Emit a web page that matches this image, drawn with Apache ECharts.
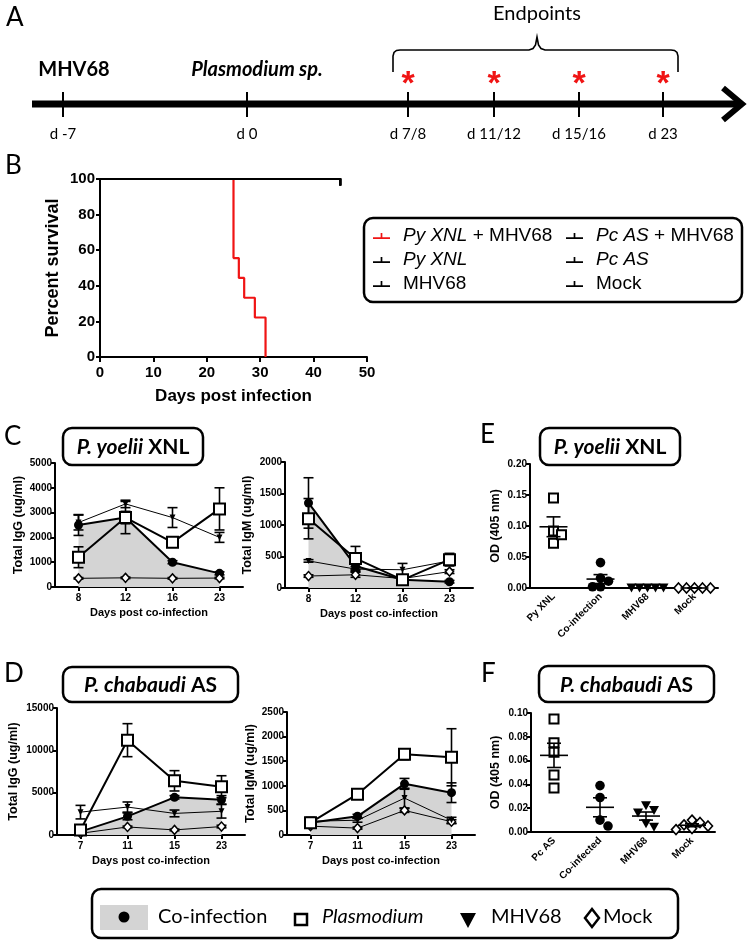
<!DOCTYPE html>
<html><head><meta charset="utf-8">
<script src="https://cdn.jsdelivr.net/npm/echarts@6/dist/echarts.min.js"></script>
<style>html,body{margin:0;padding:0;background:#fff}#c{width:750px;height:942px}</style>
</head><body><div id="c"></div>
<script>
// ================= DATA =================
// Panel A (schematic timeline)
const timelineLabels = ['d -7', 'd 0', 'd 7/8', 'd 11/12', 'd 15/16', 'd 23'];
const timelineEvents = ['MHV68', 'Plasmodium sp.'];
const endpointTitle = 'Endpoints';
// Panel B (survival)
const survivalNames = ['Py XNL + MHV68', 'Pc AS + MHV68', 'Py XNL', 'Pc AS', 'MHV68', 'Mock'];
const survDaysPyMHV = [0, 25, 26, 27, 29, 31];
const survPctPyMHV = [100, 55.6, 44.4, 33.3, 22.2, 0];
const survDaysOther = [0, 45];
const survPctOther = [100, 100];
// Panels C / D (line charts)
const groupNames = ['Co-infection', 'Plasmodium', 'MHV68', 'Mock'];
const daysPy = ['8', '12', '16', '23'];
const daysPc = ['7', '11', '15', '23'];
const cIgG_coinf = [2500, 2800, 1000, 550],  cIgG_coinfSem = [420, 250, 60, 60];
const cIgG_plas  = [1200, 2800, 1800, 3150], cIgG_plasSem  = [420, 650, 100, 850];
const cIgG_mhv   = [2600, 3350, 2800, 2000], cIgG_mhvSem   = [300, 150, 400, 200];
const cIgG_mock  = [350, 370, 350, 360],     cIgG_mockSem  = [30, 30, 30, 30];
const cIgM_coinf = [1350, 350, 130, 100],    cIgM_coinfSem = [400, 50, 30, 20];
const cIgM_plas  = [1100, 470, 130, 450],    cIgM_plasSem  = [320, 190, 40, 100];
const cIgM_mhv   = [430, 300, 290, 430],     cIgM_mhvSem   = [20, 40, 100, 60];
const cIgM_mock  = [190, 210, 150, 260],     cIgM_mockSem  = [20, 40, 30, 30];
const dIgG_coinf = [400, 2200, 4450, 4150],  dIgG_coinfSem = [150, 400, 200, 500];
const dIgG_plas  = [600, 11200, 6400, 5700], dIgG_plasSem  = [200, 1950, 1200, 1300];
const dIgG_mhv   = [2700, 3300, 2550, 2800], dIgG_mhvSem   = [800, 600, 400, 800];
const dIgG_mock  = [200, 950, 600, 1000],    dIgG_mockSem  = [50, 100, 100, 150];
const dIgM_coinf = [250, 380, 1040, 860],    dIgM_coinfSem = [50, 40, 110, 200];
const dIgM_plas  = [250, 830, 1640, 1580],   dIgM_plasSem  = [60, 40, 110, 580];
const dIgM_mhv   = [280, 300, 750, 300],     dIgM_mhvSem   = [80, 40, 200, 60];
const dIgM_mock  = [180, 140, 500, 270],     dIgM_mockSem  = [30, 20, 40, 40];
// Panels E / F (dot plots, OD 405 nm)
const eCats = ['Py XNL', 'Co-infection', 'MHV68', 'Mock'];
const ePy    = [0.145, 0.072, 0.092, 0.086];
const eCoinf = [0.041, 0.016, 0.011, 0.002, 0.002];
const eMhv   = [0, 0, 0, 0, 0];
const eMock  = [0, 0, 0, 0, 0];
const fCats = ['Pc AS', 'Co-infected', 'MHV68', 'Mock'];
const fPc    = [0.095, 0.075, 0.067, 0.048, 0.037];
const fCoinf = [0.039, 0.029, 0.010, 0.005];
const fMhv   = [0.022, 0.018, 0.016, 0.007, 0.004];
const fMock  = [0.010, 0.008, 0.006, 0.005, 0.003, 0.002];

// ================= STYLE / LAYOUT =================
const F = 'Liberation Sans';
const CAL = 'Lato';
const GRAY = '#d4d4d4';
const RED = '#f01414';

function mean(a) { return a.reduce((s, v) => s + v, 0) / a.length; }
function sem(a) {
  const m = mean(a);
  const sd = Math.sqrt(a.reduce((s, v) => s + (v - m) * (v - m), 0) / (a.length - 1));
  return sd / Math.sqrt(a.length);
}

const axLine = { show: true, onZero: false, lineStyle: { color: '#000', width: 2 } };
const axTick = { show: true, inside: false, length: 4, lineStyle: { color: '#000', width: 2 } };
const plain = v => String(v);

function yAx(gi, min, max, interval, name, gap, fmt, fs) {
  return {
    type: 'value', gridIndex: gi, min, max, interval,
    name, nameLocation: 'middle', nameRotate: 90, nameGap: gap,
    nameTextStyle: { color: '#000', fontFamily: F, fontWeight: 'bold', fontSize: fs || 12.5 },
    axisLine: axLine, axisTick: axTick, splitLine: { show: false },
    axisLabel: { color: '#000', fontFamily: F, fontWeight: 'bold', fontSize: fs ? 15 : 10, margin: fs ? 5 : 3, formatter: fmt || plain }
  };
}
function xCat(gi, cats, name) {
  return {
    type: 'category', gridIndex: gi, data: cats, boundaryGap: true,
    name, nameLocation: 'middle', nameGap: 20,
    nameTextStyle: { color: '#000', fontFamily: F, fontWeight: 'bold', fontSize: 11 },
    axisLine: axLine, axisTick: Object.assign({ alignWithLabel: true }, axTick),
    axisLabel: { color: '#000', fontFamily: F, fontWeight: 'bold', fontSize: 10, margin: 6 },
    splitLine: { show: false }
  };
}
function xDot(gi, cats) {
  return {
    type: 'category', gridIndex: gi, data: cats, boundaryGap: true,
    axisLine: axLine, axisTick: { show: false },
    axisLabel: { color: '#000', fontFamily: F, fontWeight: 'bold', fontSize: 10, rotate: 45, margin: 7, interval: 0 },
    splitLine: { show: false }
  };
}

// ---- line panels ----
function errSeries(gi, means, sems, z) {
  return {
    type: 'custom', xAxisIndex: gi, yAxisIndex: gi, z, silent: true,
    data: means.map((m, i) => [i, m, sems[i]]),
    encode: { x: 0, y: 1 },
    renderItem: (p, api) => {
      const x = api.value(0), m = api.value(1), e = api.value(2);
      const t = api.coord([x, m + e]), b = api.coord([x, m - e]);
      const hw = 5, st = { stroke: '#000', lineWidth: 1.6 };
      return { type: 'group', children: [
        { type: 'line', shape: { x1: t[0], y1: t[1], x2: b[0], y2: b[1] }, style: st },
        { type: 'line', shape: { x1: t[0] - hw, y1: t[1], x2: t[0] + hw, y2: t[1] }, style: st },
        { type: 'line', shape: { x1: b[0] - hw, y1: b[1], x2: b[0] + hw, y2: b[1] }, style: st }
      ]};
    }
  };
}
function linePanel(gi, coinf, cS, plas, pS, mhv, mS, mock, kS) {
  return [
    { type: 'line', name: groupNames[0], xAxisIndex: gi, yAxisIndex: gi, data: coinf, z: 2,
      symbol: 'circle', symbolSize: 9, itemStyle: { color: '#000' },
      lineStyle: { color: '#000', width: 2 }, areaStyle: { color: GRAY, opacity: 1 } },
    errSeries(gi, coinf, cS, 3), errSeries(gi, plas, pS, 3), errSeries(gi, mhv, mS, 3), errSeries(gi, mock, kS, 3),
    { type: 'line', name: groupNames[3], xAxisIndex: gi, yAxisIndex: gi, data: mock, z: 4,
      symbol: 'diamond', symbolSize: [8, 9], itemStyle: { color: '#fff', borderColor: '#000', borderWidth: 1.5 },
      lineStyle: { color: '#000', width: 1 } },
    { type: 'line', name: groupNames[2], xAxisIndex: gi, yAxisIndex: gi, data: mhv, z: 5,
      symbol: 'triangle', symbolRotate: 180, symbolSize: 6, itemStyle: { color: '#000' },
      lineStyle: { color: '#000', width: 1 } },
    { type: 'line', name: groupNames[1], xAxisIndex: gi, yAxisIndex: gi, data: plas, z: 6,
      symbol: 'rect', symbolSize: 11, itemStyle: { color: '#fff', borderColor: '#000', borderWidth: 2 },
      lineStyle: { color: '#000', width: 2 } }
  ];
}

// ---- dot panels ----
function swarm(ys, s) {
  const placed = [], offs = [];
  const cand = [0, s, -s, 2 * s, -2 * s, 3 * s, -3 * s, 4 * s, -4 * s];
  ys.forEach(y => {
    let dx = 0;
    for (const c of cand) {
      if (placed.every(p => Math.hypot(p.dx - c, p.y - y) >= s * 0.95)) { dx = c; break; }
    }
    placed.push({ dx, y }); offs.push(dx);
  });
  return offs;
}
function shapeFor(kind, cx, cy) {
  if (kind === 'square') return { type: 'rect', shape: { x: cx - 4.5, y: cy - 4.5, width: 9, height: 9 }, style: { fill: '#fff', stroke: '#000', lineWidth: 2 } };
  if (kind === 'circle') return { type: 'circle', shape: { cx, cy, r: 4.8 }, style: { fill: '#000' } };
  if (kind === 'tri') return { type: 'polygon', shape: { points: [[cx - 5, cy - 4.5], [cx + 5, cy - 4.5], [cx, cy + 4.5]] }, style: { fill: '#000' } };
  return { type: 'polygon', shape: { points: [[cx, cy - 5], [cx + 4.5, cy], [cx, cy + 5], [cx - 4.5, cy]] }, style: { fill: '#fff', stroke: '#000', lineWidth: 1.6 } };
}
function dotSeries(gi, catIdx, vals, kind) {
  return {
    type: 'custom', xAxisIndex: gi, yAxisIndex: gi, z: 5, silent: true,
    data: vals.map((v, j) => [catIdx, v, j]),
    encode: { x: 0, y: 1 },
    renderItem: (p, api) => {
      const j = api.value(2);
      const ys = vals.map(v => api.coord([catIdx, v])[1]);
      const offs = swarm(ys, 8);
      const c = api.coord([catIdx, api.value(1)]);
      return shapeFor(kind, c[0] + offs[j], c[1]);
    }
  };
}
function meanSeries(gi, groups) {
  return {
    type: 'custom', xAxisIndex: gi, yAxisIndex: gi, z: 6, silent: true,
    data: groups.map((g, i) => [i, mean(g), sem(g)]),
    encode: { x: 0, y: 1 },
    renderItem: (p, api) => {
      const x = api.value(0), m = api.value(1), e = api.value(2);
      const c = api.coord([x, m]), t = api.coord([x, m + e]), b = api.coord([x, m - e]);
      const st = { stroke: '#000', lineWidth: 1.6 };
      return { type: 'group', children: [
        { type: 'line', shape: { x1: c[0] - 14, y1: c[1], x2: c[0] + 14, y2: c[1] }, style: st },
        { type: 'line', shape: { x1: t[0], y1: t[1], x2: b[0], y2: b[1] }, style: st },
        { type: 'line', shape: { x1: t[0] - 7, y1: t[1], x2: t[0] + 7, y2: t[1] }, style: st },
        { type: 'line', shape: { x1: b[0] - 7, y1: b[1], x2: b[0] + 7, y2: b[1] }, style: st }
      ]};
    }
  };
}

// ---- survival ----
const survivalSeries = [
  { type: 'line', name: survivalNames[0], xAxisIndex: 0, yAxisIndex: 0, step: 'end', z: 2,
    data: survDaysPyMHV.map((d, i) => [d, survPctPyMHV[i]]), symbol: 'none',
    itemStyle: { color: RED }, lineStyle: { color: RED, width: 2.2 } }
].concat(survivalNames.slice(1).map(n => ({
  type: 'line', name: n, xAxisIndex: 0, yAxisIndex: 0, step: 'end', z: 3,
  data: survDaysOther.map((d, i) => i === survDaysOther.length - 1
    ? { value: [d, survPctOther[i]], symbol: 'rect', symbolSize: [2, 7], symbolOffset: [0, 3] }
    : [d, survPctOther[i]]),
  symbol: 'none', showSymbol: true,
  itemStyle: { color: '#000' }, lineStyle: { color: '#000', width: 2 }
})));
const legendRich = { 'Py XNL + MHV68': '{i|Py XNL} + MHV68', 'Pc AS + MHV68': '{i|Pc AS} + MHV68', 'Py XNL': '{i|Py XNL}', 'Pc AS': '{i|Pc AS}', 'MHV68': 'MHV68', 'Mock': 'Mock' };

// ---- graphics (schematic / annotation) ----
const tlX = [63, 247, 408, 494, 579, 663];
const tlY = 104;
const G = [];
G.push({ type: 'text', style: { text: 'A', x: 6, y: 18, verticalAlign: 'middle', fontFamily: CAL, fontSize: 26, fill: '#000' } });
G.push({ type: 'rect', shape: { x: 32, y: tlY - 3.5, width: 706, height: 7 }, style: { fill: '#000' } });
G.push({ type: 'polyline', shape: { points: [[723, tlY - 16], [742, tlY], [723, tlY + 16]] }, style: { stroke: '#000', lineWidth: 6, fill: null, lineJoin: 'miter' } });
tlX.forEach((x, i) => {
  G.push({ type: 'line', shape: { x1: x, y1: tlY - 12, x2: x, y2: tlY + 13 }, style: { stroke: '#000', lineWidth: 2 } });
  G.push({ type: 'text', style: { text: timelineLabels[i], x, y: 134, align: 'center', verticalAlign: 'middle', fontFamily: CAL, fontSize: 15, fill: '#000' } });
  if (i >= 2) G.push({ type: 'text', style: { text: '*', x, y: 85, align: 'center', verticalAlign: 'middle', fontFamily: F, fontWeight: 'bold', fontSize: 34, fill: RED } });
});
G.push({ type: 'text', style: { text: timelineEvents[0], x: 74, y: 70, align: 'center', verticalAlign: 'middle', fontFamily: CAL, fontWeight: 'bold', fontSize: 20, fill: '#000' } });
G.push({ type: 'text', style: { text: timelineEvents[1], x: 257, y: 70, align: 'center', verticalAlign: 'middle', fontFamily: CAL, fontWeight: 'bold', fontStyle: 'italic', fontSize: 20, fill: '#000' } });
G.push({ type: 'text', style: { text: endpointTitle, x: 537, y: 14, align: 'center', verticalAlign: 'middle', fontFamily: CAL, fontSize: 20, fill: '#000' } });
G.push({ type: 'polyline', shape: { points: [[393, 72], [393, 56], [394, 52.5], [396.5, 50.5], [400, 50], [529, 50], [533, 48.5], [535.5, 45], [537, 37], [538.5, 45], [541, 48.5], [545, 50], [671, 50], [674.5, 50.5], [677, 52.5], [678, 56], [678, 72]] }, style: { stroke: '#000', lineWidth: 1.6, fill: null } });

// panel letters
[['B', 5, 166], ['C', 4, 437], ['D', 4, 674], ['E', 480, 435], ['F', 481, 674]].forEach(([t, x, y]) =>
  G.push({ type: 'text', style: { text: t, x, y, verticalAlign: 'middle', fontFamily: CAL, fontSize: 26, fill: '#000' } }));

// title boxes
function titleBox(x, y, w, h, it, rest) {
  G.push({ type: 'rect', shape: { x, y, width: w, height: h, r: 9 }, style: { fill: '#fff', stroke: '#000', lineWidth: 2.5 } });
  G.push({ type: 'text', style: { text: '{i|' + it + '} ' + rest, x: x + w / 2, y: y + h / 2 + 1, align: 'center', verticalAlign: 'middle',
    fontFamily: CAL, fontWeight: 'bold', fontSize: 21, fill: '#000',
    rich: { i: { fontFamily: CAL, fontWeight: 'bold', fontStyle: 'italic', fontSize: 21, fill: '#000' } } } });
}
titleBox(63, 428, 140, 37, 'P. yoelii', 'XNL');
titleBox(540, 428, 140, 37, 'P. yoelii', 'XNL');
titleBox(63, 667, 175, 35, 'P. chabaudi', 'AS');
titleBox(539, 666, 175, 36, 'P. chabaudi', 'AS');

// bottom legend
G.push({ type: 'rect', shape: { x: 92, y: 889, width: 586, height: 49, r: 9 }, style: { fill: '#fff', stroke: '#000', lineWidth: 2.5 } });
G.push({ type: 'rect', shape: { x: 100, y: 905, width: 48, height: 25 }, style: { fill: GRAY } });
G.push({ type: 'circle', shape: { cx: 124, cy: 917, r: 5.5 }, style: { fill: '#000' } });
G.push({ type: 'text', style: { text: groupNames[0], x: 158, y: 917, verticalAlign: 'middle', fontFamily: CAL, fontSize: 20, fill: '#000' } });
G.push({ type: 'rect', shape: { x: 295, y: 914, width: 12, height: 11 }, style: { fill: '#fff', stroke: '#000', lineWidth: 2.5 } });
G.push({ type: 'text', style: { text: groupNames[1], x: 322, y: 917, verticalAlign: 'middle', fontFamily: CAL, fontStyle: 'italic', fontSize: 20, fill: '#000' } });
G.push({ type: 'polygon', shape: { points: [[460, 913], [476, 913], [468, 928]] }, style: { fill: '#000' } });
G.push({ type: 'text', style: { text: groupNames[2], x: 491, y: 917, verticalAlign: 'middle', fontFamily: CAL, fontSize: 20, fill: '#000' } });
G.push({ type: 'polygon', shape: { points: [[592, 909], [599, 918], [592, 927], [585, 918]] }, style: { fill: '#fff', stroke: '#000', lineWidth: 2.5 } });
G.push({ type: 'text', style: { text: groupNames[3], x: 603, y: 917, verticalAlign: 'middle', fontFamily: CAL, fontSize: 20, fill: '#000' } });

// ================= OPTION =================
const option = {
  animation: false,
  backgroundColor: '#fff',
  textStyle: { fontFamily: F },
  grid: [
    { left: 100, top: 179, width: 267, height: 178 },
    { left: 55, top: 463, width: 188, height: 124 },
    { left: 285, top: 462, width: 188, height: 126 },
    { left: 530, top: 464, width: 188, height: 124 },
    { left: 57, top: 708, width: 188, height: 127 },
    { left: 287, top: 712, width: 188, height: 123 },
    { left: 531, top: 713, width: 184, height: 119 }
  ],
  xAxis: [
    { type: 'value', gridIndex: 0, min: 0, max: 50, interval: 10,
      name: 'Days post infection', nameLocation: 'middle', nameGap: 31,
      nameTextStyle: { color: '#000', fontFamily: F, fontWeight: 'bold', fontSize: 17 },
      axisLine: axLine, axisTick: { show: true, length: 5, lineStyle: { color: '#000', width: 2 } }, splitLine: { show: false },
      axisLabel: { color: '#000', fontFamily: F, fontWeight: 'bold', fontSize: 15, margin: 8 } },
    xCat(1, daysPy, 'Days post co-infection'),
    xCat(2, daysPy, 'Days post co-infection'),
    xDot(3, eCats),
    xCat(4, daysPc, 'Days post co-infection'),
    xCat(5, daysPc, 'Days post co-infection'),
    xDot(6, fCats)
  ],
  yAxis: [
    yAx(0, 0, 100, 20, 'Percent survival', 38, null, 18),
    yAx(1, 0, 5000, 1000, 'Total IgG (ug/ml)', 30),
    yAx(2, 0, 2000, 500, 'Total IgM (ug/ml)', 31),
    yAx(3, 0, 0.2, 0.05, 'OD (405 nm)', 28, v => v.toFixed(2)),
    yAx(4, 0, 15000, 5000, 'Total IgG (ug/ml)', 37),
    yAx(5, 0, 2500, 500, 'Total IgM (ug/ml)', 30),
    yAx(6, 0, 0.1, 0.02, 'OD (405 nm)', 29, v => v.toFixed(2))
  ],
  legend: {
    left: 364, top: 218, width: 368, orient: 'horizontal',
    itemWidth: 17, itemHeight: 8, itemGap: 4,
    padding: [8, 4, 8, 9],
    borderColor: '#000', borderWidth: 2.5, borderRadius: 9,
    selectedMode: false,
    icon: 'path://M0,7 L20,7 L20,9 L0,9 Z M9,2 L11,2 L11,7 L9,7 Z',
    data: survivalNames.map((n, i) => ({ name: n, textStyle: { width: i % 2 === 0 ? 159 : 142 } })),
    formatter: n => legendRich[n],
    textStyle: { color: '#000', fontFamily: F, fontSize: 19, lineHeight: 20, padding: [0, 0, 0, 8],
      rich: { i: { fontFamily: F, fontSize: 19, fontStyle: 'italic', color: '#000' } } }
  },
  series: [].concat(
    survivalSeries,
    linePanel(1, cIgG_coinf, cIgG_coinfSem, cIgG_plas, cIgG_plasSem, cIgG_mhv, cIgG_mhvSem, cIgG_mock, cIgG_mockSem),
    linePanel(2, cIgM_coinf, cIgM_coinfSem, cIgM_plas, cIgM_plasSem, cIgM_mhv, cIgM_mhvSem, cIgM_mock, cIgM_mockSem),
    linePanel(4, dIgG_coinf, dIgG_coinfSem, dIgG_plas, dIgG_plasSem, dIgG_mhv, dIgG_mhvSem, dIgG_mock, dIgG_mockSem),
    linePanel(5, dIgM_coinf, dIgM_coinfSem, dIgM_plas, dIgM_plasSem, dIgM_mhv, dIgM_mhvSem, dIgM_mock, dIgM_mockSem),
    [dotSeries(3, 0, ePy, 'square'), dotSeries(3, 1, eCoinf, 'circle'), dotSeries(3, 2, eMhv, 'tri'), dotSeries(3, 3, eMock, 'diamond'),
     meanSeries(3, [ePy, eCoinf, eMhv, eMock])],
    [dotSeries(6, 0, fPc, 'square'), dotSeries(6, 1, fCoinf, 'circle'), dotSeries(6, 2, fMhv, 'tri'), dotSeries(6, 3, fMock, 'diamond'),
     meanSeries(6, [fPc, fCoinf, fMhv, fMock])]
  ),
  graphic: { elements: G }
};
const chart = echarts.init(document.getElementById('c'), null, { renderer: 'canvas', width: 750, height: 942 });
chart.setOption(option);
</script>
</body></html>
